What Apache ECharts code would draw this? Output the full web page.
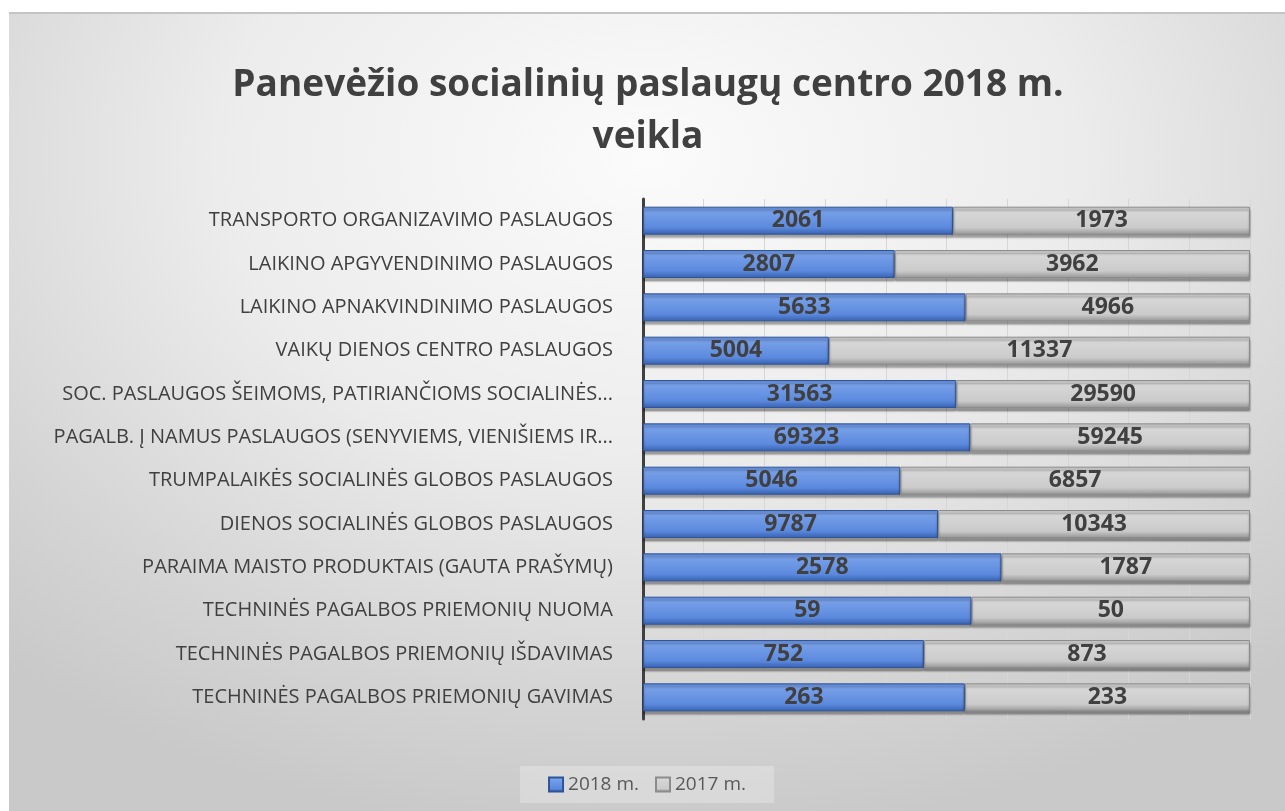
<!DOCTYPE html>
<html>
<head>
<meta charset="utf-8">
<script src="https://cdn.jsdelivr.net/npm/echarts@6/dist/echarts.min.js"></script>
<style>
  html, body { margin: 0; padding: 0; background: #fff; }
  #chart {
    position: absolute; left: 9px; top: 12px; width: 1276px; height: 799px;
    border-top: 2px solid #c4c4c4;
    background: radial-gradient(ellipse 75% 85% at 50% 18%, #fbfbfb 0%, #ececec 45%, #d4d4d4 80%, #c9c9c9 100%);
  }
</style>
</head>
<body>
<div id="chart"></div>
<script>
// Kategorijos (iš viršaus į apačią)
const categories = [
  'TRANSPORTO ORGANIZAVIMO PASLAUGOS',
  'LAIKINO APGYVENDINIMO PASLAUGOS',
  'LAIKINO APNAKVINDINIMO PASLAUGOS',
  'VAIKŲ DIENOS CENTRO PASLAUGOS',
  'SOC. PASLAUGOS ŠEIMOMS, PATIRIANČIOMS SOCIALINĖS...',
  'PAGALB. Į NAMUS PASLAUGOS (SENYVIEMS, VIENIŠIEMS IR...',
  'TRUMPALAIKĖS SOCIALINĖS GLOBOS PASLAUGOS',
  'DIENOS SOCIALINĖS GLOBOS PASLAUGOS',
  'PARAIMA MAISTO PRODUKTAIS (GAUTA PRAŠYMŲ)',
  'TECHNINĖS PAGALBOS PRIEMONIŲ NUOMA',
  'TECHNINĖS PAGALBOS PRIEMONIŲ IŠDAVIMAS',
  'TECHNINĖS PAGALBOS PRIEMONIŲ GAVIMAS'
];
const values2018 = [2061, 2807, 5633, 5004, 31563, 69323, 5046, 9787, 2578, 59, 752, 263];
const values2017 = [1973, 3962, 4966, 11337, 29590, 59245, 6857, 10343, 1787, 50, 873, 233];
const seriesNames = ['2018 m.', '2017 m.'];

// 100 % sudėtinė juosta: procentai skaičiuojami iš reikšmių
const share = (a, b) => a.map((v, i) => (v / (v + b[i])) * 100);

const chart = echarts.init(document.getElementById('chart'));

const labelStyle = {
  show: true,
  position: 'inside',
  fontFamily: 'Open Sans',
  fontWeight: 'bold',
  fontSize: 23,
  color: '#404040'
};

chart.setOption({
  animation: false,
  title: {
    text: 'Panevėžio socialinių paslaugų centro 2018 m.\nveikla',
    left: 634,
    top: 40,
    textAlign: 'center',
    textStyle: {
      fontFamily: 'Open Sans',
      fontWeight: 'bold',
      fontSize: 37,
      lineHeight: 52,
      color: '#404040'
    }
  },
  legend: {
    bottom: 10,
    left: 'center',
    icon: 'rect',
    itemWidth: 14,
    itemHeight: 14,
    itemGap: 16,
    padding: [9, 28],
    backgroundColor: 'rgba(255,255,255,0.25)',
    textStyle: { fontFamily: 'Open Sans', fontSize: 19, color: '#595959' },
    data: seriesNames
  },
  grid: { left: 634, right: 35, top: 185, bottom: 94 },
  xAxis: {
    type: 'value',
    min: 0,
    max: 100,
    interval: 10,
    axisLabel: { show: false },
    axisLine: { show: false },
    axisTick: { show: false },
    splitLine: { lineStyle: { color: '#d6d6d6', width: 1 } }
  },
  yAxis: {
    type: 'category',
    inverse: true,
    data: categories,
    offset: 9,
    axisLine: { show: true, lineStyle: { color: '#404040', width: 3 } },
    axisTick: { show: false },
    axisLabel: {
      margin: 21,
      fontFamily: 'Open Sans',
      fontSize: 20,
      color: '#404040'
    }
  },
  series: [
    {
      name: seriesNames[0],
      type: 'bar',
      stack: 'total',
      barWidth: 28,
      data: share(values2018, values2017),
      label: Object.assign({}, labelStyle, {
        formatter: p => values2018[p.dataIndex]
      }),
      itemStyle: {
        color: new echarts.graphic.LinearGradient(0, 0, 0, 1, [
          { offset: 0, color: '#4f7bd0' },
          { offset: 0.12, color: '#7aa2ea' },
          { offset: 0.75, color: '#5b89dd' },
          { offset: 1, color: '#3760b0' }
        ]),
        borderColor: '#2f5597',
        borderWidth: 1,
        shadowColor: 'rgba(0,0,0,0.35)',
        shadowOffsetY: 3,
        shadowBlur: 2
      }
    },
    {
      name: seriesNames[1],
      type: 'bar',
      stack: 'total',
      barWidth: 28,
      data: share(values2017, values2018),
      label: Object.assign({}, labelStyle, {
        formatter: p => values2017[p.dataIndex]
      }),
      itemStyle: {
        color: new echarts.graphic.LinearGradient(0, 0, 0, 1, [
          { offset: 0, color: '#b5b5b5' },
          { offset: 0.12, color: '#d8d8d8' },
          { offset: 0.75, color: '#cbcbcb' },
          { offset: 1, color: '#959595' }
        ]),
        borderColor: '#8c8c8c',
        borderWidth: 1,
        shadowColor: 'rgba(0,0,0,0.35)',
        shadowOffsetY: 3,
        shadowBlur: 2
      }
    }
  ]
});

window.addEventListener('resize', () => chart.resize());
</script>
</body>
</html>
